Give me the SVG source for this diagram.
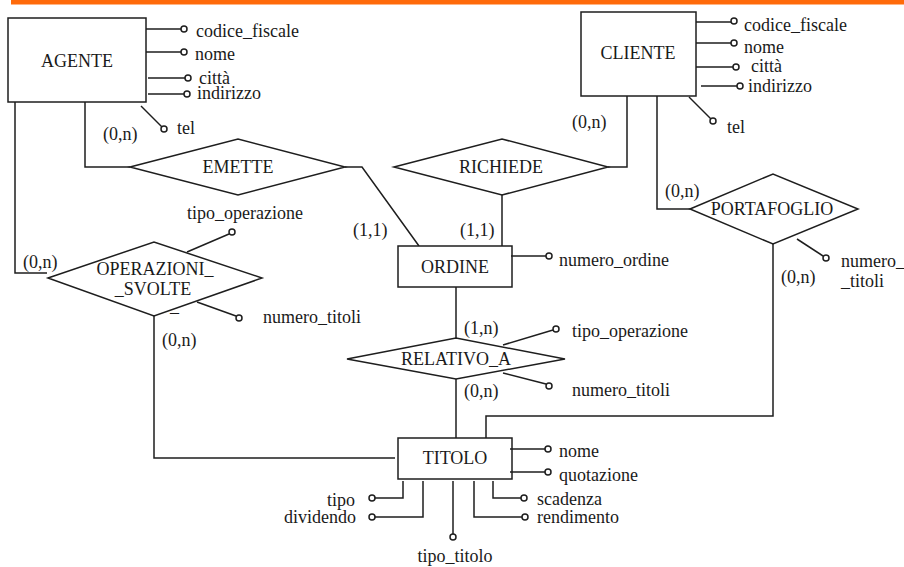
<svg xmlns="http://www.w3.org/2000/svg" width="904" height="567" viewBox="0 0 904 567" font-family="'Liberation Serif', 'Times New Roman', serif" font-size="18">
  <style>
    text { font-family: 'Liberation Serif', 'Times New Roman', serif; font-size: 18px; fill: #1a1a1a; }
    .c { text-anchor: middle; }
    .e { text-anchor: end; }
    .shape { fill: #ffffff; stroke: #1e1e1e; stroke-width: 1.5; }
    .ln { fill: none; stroke: #1e1e1e; stroke-width: 1.5; }
    .att { fill: #ffffff; stroke: #1e1e1e; stroke-width: 1.5; }
  </style>
  <defs>
    <!-- attribute marker: small hollow circle -->
    <circle id="dot" r="3" class="att"/>
  </defs>

  <rect x="0" y="0" width="904" height="567" fill="#ffffff"/>
  <!-- header bar -->
  <rect x="11" y="0" width="893" height="4.5" fill="#ff6a0a"/>

  <!-- relationship connectors -->
  <g id="connectors" class="ln">
    <polyline points="85,102 85,167 130,167"/>
    <polyline points="345,167 362,167 419,246"/>
    <polyline points="608,167 627,167 627,96"/>
    <line x1="502" y1="195" x2="502" y2="246"/>
    <polyline points="657,96 657,209 690,209"/>
    <polyline points="773,244 773,416 486,416 486,438"/>
    <polyline points="15,102 15,273 47,273"/>
    <polyline points="154,316 154,458 395,458"/>
    <line x1="456" y1="287" x2="456" y2="338"/>
    <line x1="456" y1="379" x2="456" y2="438"/>
  </g>

  <!-- cardinalities -->
  <g id="cardinalities">
    <text x="103" y="140">(0,n)</text>
    <text x="353" y="236">(1,1)</text>
    <text x="572" y="128">(0,n)</text>
    <text x="460" y="236">(1,1)</text>
    <text x="665" y="197">(0,n)</text>
    <text x="781" y="283">(0,n)</text>
    <text x="23" y="268">(0,n)</text>
    <text x="162" y="346">(0,n)</text>
    <text x="464" y="334">(1,n)</text>
    <text x="464" y="397">(0,n)</text>
  </g>

  <!-- AGENTE -->
  <g id="agente">
    <rect x="8" y="18" width="138" height="84" class="shape"/>
    <text x="77" y="67" class="c">AGENTE</text>
    <g class="ln">
      <line x1="146" y1="29" x2="181" y2="29"/>
      <line x1="146" y1="52" x2="181" y2="52"/>
      <line x1="148" y1="78" x2="185" y2="78"/>
      <line x1="148" y1="94" x2="184" y2="94"/>
      <line x1="141" y1="106" x2="162" y2="127"/>
    </g>
    <use href="#dot" x="184" y="29"/>
    <use href="#dot" x="184" y="52"/>
    <use href="#dot" x="188" y="78"/>
    <use href="#dot" x="187" y="94"/>
    <use href="#dot" x="164" y="129"/>
    <text x="196" y="37">codice_fiscale</text>
    <text x="195" y="60">nome</text>
    <text x="199" y="84">città</text>
    <text x="197" y="99">indirizzo</text>
    <text x="177" y="134">tel</text>
  </g>

  <!-- CLIENTE -->
  <g id="cliente">
    <rect x="581" y="12" width="115" height="84" class="shape"/>
    <text x="638" y="59" class="c">CLIENTE</text>
    <g class="ln">
      <line x1="696" y1="22" x2="731" y2="22"/>
      <line x1="696" y1="43" x2="731" y2="43"/>
      <line x1="696" y1="67" x2="733" y2="67"/>
      <line x1="701" y1="86" x2="737" y2="86"/>
      <line x1="689" y1="97" x2="711" y2="119"/>
    </g>
    <use href="#dot" x="734" y="21"/>
    <use href="#dot" x="734" y="43"/>
    <use href="#dot" x="736" y="67"/>
    <use href="#dot" x="740" y="86"/>
    <use href="#dot" x="713" y="121"/>
    <text x="744" y="31">codice_fiscale</text>
    <text x="744" y="53">nome</text>
    <text x="751" y="72">città</text>
    <text x="748" y="92">indirizzo</text>
    <text x="727" y="133">tel</text>
  </g>

  <!-- ORDINE -->
  <g id="ordine">
    <rect x="398" y="246" width="114" height="41" class="shape"/>
    <text x="455" y="273" class="c">ORDINE</text>
    <line x1="511" y1="256" x2="546" y2="256" class="ln"/>
    <use href="#dot" x="549" y="256"/>
    <text x="559" y="266">numero_ordine</text>
  </g>

  <!-- TITOLO -->
  <g id="titolo">
    <rect x="398" y="438" width="114" height="41" class="shape"/>
    <text x="455" y="464" class="c">TITOLO</text>
    <g class="ln">
      <line x1="510" y1="449" x2="545" y2="449"/>
      <line x1="510" y1="472" x2="545" y2="472"/>
      <polyline points="493,481 493,498 521,498"/>
      <polyline points="474,481 474,517 522,517"/>
      <line x1="453" y1="481" x2="453" y2="534"/>
      <polyline points="403,481 403,498 375,498"/>
      <polyline points="423,481 423,517 375,517"/>
    </g>
    <use href="#dot" x="548" y="449"/>
    <use href="#dot" x="548" y="472"/>
    <use href="#dot" x="524" y="498"/>
    <use href="#dot" x="525" y="517"/>
    <use href="#dot" x="453" y="537"/>
    <use href="#dot" x="372" y="498"/>
    <use href="#dot" x="372" y="517"/>
    <text x="559" y="457">nome</text>
    <text x="559" y="481">quotazione</text>
    <text x="537" y="505">scadenza</text>
    <text x="537" y="523">rendimento</text>
    <text x="455" y="562" class="c">tipo_titolo</text>
    <text x="355" y="506" class="e">tipo</text>
    <text x="356" y="523" class="e">dividendo</text>
  </g>

  <!-- EMETTE -->
  <g id="emette">
    <polygon points="130,167 238,139 345,167 238,195" class="shape"/>
    <text x="238" y="173" class="c">EMETTE</text>
  </g>

  <!-- RICHIEDE -->
  <g id="richiede">
    <polygon points="394,167 502,139 608,167 502,195" class="shape"/>
    <text x="501" y="173" class="c">RICHIEDE</text>
  </g>

  <!-- PORTAFOGLIO -->
  <g id="portafoglio">
    <polygon points="690,209 773,174 858,209 773,244" class="shape"/>
    <text x="772" y="215" class="c">PORTAFOGLIO</text>
    <line x1="797" y1="239" x2="823" y2="256" class="ln"/>
    <use href="#dot" x="826" y="258"/>
    <text x="841" y="267">numero_</text>
    <text x="841" y="287">_titoli</text>
  </g>

  <!-- OPERAZIONI_SVOLTE -->
  <g id="operazioni_svolte">
    <polygon points="48,278 154,242 262,278 154,316" class="shape"/>
    <text x="155" y="275" class="c">OPERAZIONI_</text>
    <text x="153" y="295" class="c">_SVOLTE</text>
    <text x="170" y="312">_</text>
    <g class="ln">
      <line x1="187" y1="252" x2="229" y2="234"/>
      <line x1="197" y1="302" x2="236" y2="316"/>
    </g>
    <use href="#dot" x="232" y="232"/>
    <use href="#dot" x="239" y="318"/>
    <text x="187" y="219">tipo_operazione</text>
    <text x="263" y="323">numero_titoli</text>
  </g>

  <!-- RELATIVO_A -->
  <g id="relativo_a">
    <polygon points="347,359 456,338 565,359 456,379" class="shape"/>
    <text x="456" y="365" class="c">RELATIVO_A</text>
    <g class="ln">
      <line x1="503" y1="345" x2="553" y2="330"/>
      <line x1="503" y1="373" x2="546" y2="384"/>
    </g>
    <use href="#dot" x="556" y="329"/>
    <use href="#dot" x="549" y="386"/>
    <text x="572" y="337">tipo_operazione</text>
    <text x="572" y="396">numero_titoli</text>
  </g>
</svg>
